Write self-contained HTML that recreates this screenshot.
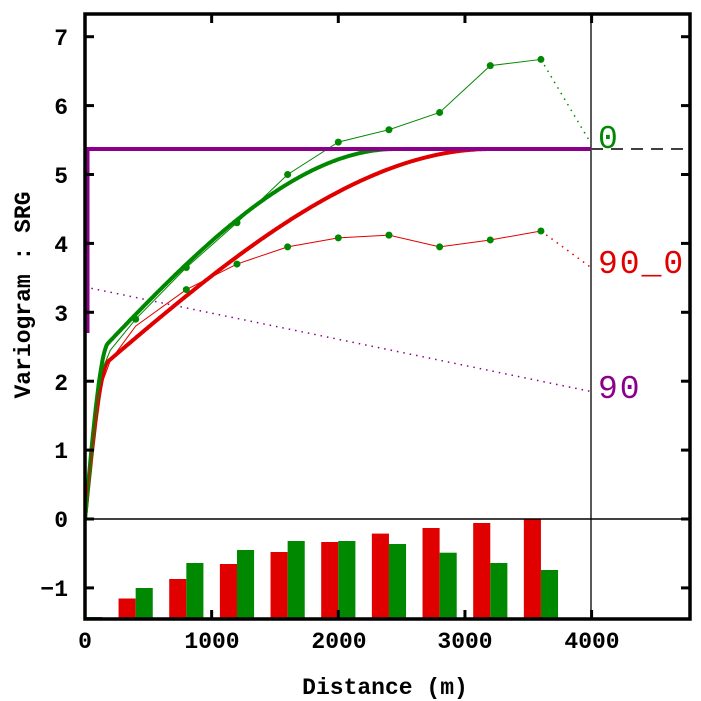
<!DOCTYPE html>
<html><head><meta charset="utf-8"><style>
html,body{margin:0;padding:0;background:#fff;}
svg{display:block;}
.t{font-family:"Liberation Mono",monospace;font-weight:bold;font-size:23px;fill:#000;}
.l{font-family:"Liberation Mono",monospace;font-size:33px;letter-spacing:2px;}
</style></head><body>
<svg id="s" width="701" height="701" viewBox="0 0 701 701" xmlns="http://www.w3.org/2000/svg">
<defs><clipPath id="c"><rect x="85" y="14" width="605" height="605"/></clipPath></defs>
<g id="bars" clip-path="url(#c)"></g>
<g clip-path="url(#c)">
<line x1="85" y1="519" x2="690" y2="519" stroke="#000" stroke-width="1.5"/>
<line x1="591" y1="14" x2="591" y2="619" stroke="#000" stroke-width="1.3"/>
<line x1="591" y1="149" x2="690" y2="149" stroke="#000" stroke-width="1.5" stroke-dasharray="12,8"/>
<line x1="88" y1="149" x2="88" y2="333" stroke="#8b008b" stroke-width="3"/>
<line x1="85" y1="287" x2="591" y2="391.5" stroke="#8b008b" stroke-width="1.5" stroke-dasharray="1.5,5"/>
<g id="curves"></g>
<line x1="85" y1="149" x2="591" y2="149" stroke="#8b008b" stroke-width="4"/>
<text class="l" x="598" y="148" fill="#008800">0</text>
<text class="l" x="598" y="273" fill="#e00000">90_0)</text>
<text class="l" x="598" y="398" fill="#8b008b">90</text>
</g>
<rect x="85" y="14" width="605" height="605" fill="none" stroke="#000" stroke-width="3.5"/>
<g id="ticks" stroke="#000" stroke-width="3"></g>
<g class="t" text-anchor="end">
<text x="68" y="45">7</text><text x="68" y="114">6</text><text x="68" y="183">5</text><text x="68" y="252">4</text><text x="68" y="321">3</text><text x="68" y="390">2</text><text x="68" y="458">1</text><text x="68" y="527">0</text><text x="68" y="596">−1</text>
</g>
<g class="t" text-anchor="middle">
<text x="85" y="648">0</text><text x="212" y="648">1000</text><text x="339" y="648">2000</text><text x="465" y="648">3000</text><text x="592" y="648">4000</text>
<text x="385" y="694">Distance (m)</text>
<text transform="translate(30,295) rotate(-90)">Variogram : SRG</text>
</g>
</svg>
<script>
const NS="http://www.w3.org/2000/svg";
const X=d=>85+d*0.12665, Y=v=>519-v*68.9;
function el(p,t,a){const e=document.createElementNS(NS,t);for(const k in a)e.setAttribute(k,a[k]);document.getElementById(p).appendChild(e);return e;}
const bars=[[0,617,617],[400,598.5,588],[800,579,563],[1200,564,550],[1600,552,541],[2000,542,541],[2400,533.6,544],[2800,528,552.7],[3200,523,563],[3600,519,570]];
for(const [d,r,g] of bars){
 const w=135*0.12665;
 el("bars","rect",{x:X(d)-w,y:r,width:w,height:619-r,fill:"#e00000"});
 el("bars","rect",{x:X(d),y:g,width:w,height:619-g,fill:"#008800"});
}
function sph(h,a){return h>=a?1:1.5*h/a-0.5*Math.pow(h/a,3);}
function model(n0,a0,c,a){let p=[];for(let h=0;h<=4000;h+=10){let v=n0*sph(h,a0)+c*sph(h,a);if(v>5.37)v=5.37;p.push(X(h).toFixed(1)+","+Y(v).toFixed(1));}return p.join(" ");}
el("curves","polyline",{points:model(2.0,180,3.37,3200),fill:"none",stroke:"#e00000","stroke-width":4});
el("curves","polyline",{points:model(2.2,180,3.17,2450),fill:"none",stroke:"#008800","stroke-width":4});
const gp=[[0,0.1],[100,2.0],[200,2.45],[400,2.9],[800,3.65],[1200,4.3],[1600,5.0],[2000,5.47],[2400,5.65],[2800,5.9],[3200,6.58],[3600,6.67]];
const rp=[[0,0.1],[100,1.8],[200,2.3],[400,2.8],[800,3.33],[1200,3.7],[1600,3.95],[2000,4.08],[2400,4.12],[2800,3.95],[3200,4.05],[3600,4.18]];
function pts(a){return a.map(p=>X(p[0])+","+Y(p[1])).join(" ");}
el("curves","polyline",{points:pts(gp),fill:"none",stroke:"#008800","stroke-width":1});
el("curves","polyline",{points:pts(rp),fill:"none",stroke:"#e00000","stroke-width":1});
el("curves","line",{x1:X(3600),y1:Y(6.67),x2:591,y2:Y(5.45),stroke:"#008800","stroke-width":1.5,"stroke-dasharray":"1.5,5"});
el("curves","line",{x1:X(3600),y1:Y(4.18),x2:591,y2:Y(3.65),stroke:"#e00000","stroke-width":1.5,"stroke-dasharray":"1.5,5"});
for(const p of gp.slice(3).concat(rp.slice(4)))el("curves","circle",{cx:X(p[0]),cy:Y(p[1]),r:3.5,fill:"#008800"});
for(let v=-1;v<=7;v++){el("ticks","line",{x1:85,y1:Y(v),x2:94,y2:Y(v)});el("ticks","line",{x1:681,y1:Y(v),x2:690,y2:Y(v)});}
for(let d=1000;d<=4000;d+=1000){el("ticks","line",{x1:X(d),y1:14,x2:X(d),y2:23});el("ticks","line",{x1:X(d),y1:610,x2:X(d),y2:619});}
</script>
</body></html>
